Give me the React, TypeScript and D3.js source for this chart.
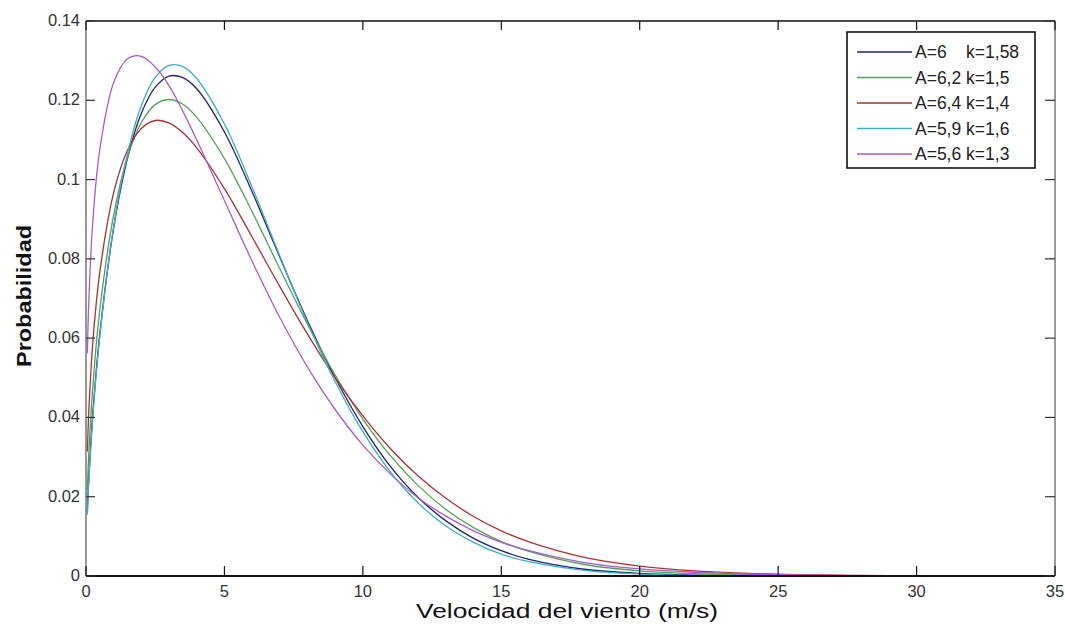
import React from "react";
import * as d3 from "d3";

// Wind speed samples (m/s)
const speeds = [0.05, 0.1, 0.25, 0.5, 1, 1.5, 2, 2.5, 3, 3.5, 4, 5, 6, 7, 8, 9, 10, 11, 12, 13, 14, 15, 16, 18, 20, 22, 25, 28, 31, 34.2];

// Probability values, one array per curve
const serieA6 = [0.0164, 0.0245, 0.0414, 0.0611, 0.0878, 0.1054, 0.1167, 0.1233, 0.1261, 0.1257, 0.1229, 0.1120, 0.0969, 0.0804, 0.0644, 0.0500, 0.0377, 0.0276, 0.0198, 0.0139, 0.0095, 0.0064, 0.0042, 0.0017, 0.00065, 0.00023, 0.00004, 0.00001, 0, 0];
const serieA62 = [0.0217, 0.0307, 0.0482, 0.0672, 0.0911, 0.1057, 0.1144, 0.1189, 0.1202, 0.1190, 0.1157, 0.1053, 0.0919, 0.0775, 0.0635, 0.0507, 0.0396, 0.0303, 0.0228, 0.0168, 0.0122, 0.0087, 0.0062, 0.0029, 0.0013, 0.00057, 0.00015, 0.00004, 0.00001, 0];
const serieA64 = [0.0314, 0.0413, 0.0592, 0.0767, 0.0967, 0.1074, 0.1129, 0.1149, 0.1143, 0.1118, 0.1080, 0.0977, 0.0855, 0.0730, 0.0610, 0.0500, 0.0404, 0.0321, 0.0252, 0.0196, 0.0150, 0.0114, 0.0086, 0.0047, 0.0025, 0.0013, 0.00045, 0.00015, 0.00005, 0.00001];
const serieA59 = [0.0155, 0.0235, 0.0404, 0.0605, 0.0882, 0.1066, 0.1187, 0.1258, 0.1288, 0.1285, 0.1255, 0.1140, 0.0981, 0.0807, 0.0639, 0.0490, 0.0364, 0.0262, 0.0184, 0.0126, 0.0085, 0.0055, 0.0036, 0.0014, 0.00049, 0.00016, 0.00003, 0, 0, 0];
const serieA56 = [0.0562, 0.0690, 0.0898, 0.1077, 0.1245, 0.1305, 0.1311, 0.1284, 0.1237, 0.1172, 0.1100, 0.0947, 0.0794, 0.0652, 0.0527, 0.0420, 0.0330, 0.0257, 0.0197, 0.0151, 0.0114, 0.0085, 0.0064, 0.0034, 0.0018, 0.00094, 0.00033, 0.00011, 0.00004, 0.00001];

const legendLabels = ["A=6    k=1,58", "A=6,2 k=1,5", "A=6,4 k=1,4", "A=5,9 k=1,6", "A=5,6 k=1,3"];
const seriesColors = ["#22226e", "#55a055", "#a83232", "#3aaec2", "#a65ccc"];
const allSeries = [serieA6, serieA62, serieA64, serieA59, serieA56];

const xTicks = [0, 5, 10, 15, 20, 25, 30, 35];
const yTicks = [0, 0.02, 0.04, 0.06, 0.08, 0.1, 0.12, 0.14];
const yTickLabels = ["0", "0.02", "0.04", "0.06", "0.08", "0.1", "0.12", "0.14"];

const W = 1065;
const H = 630;
const L = 86, R = 1055, T = 21, B = 576;
const FONT = "'Liberation Sans', Arial, Helvetica, sans-serif";

export default function App() {
  const x = d3.scaleLinear().domain([0, 35]).range([L, R]);
  const y = d3.scaleLinear().domain([0, 0.14]).range([B, T]);
  const line = d3
    .line<[number, number]>()
    .x((d) => x(d[0]))
    .y((d) => y(d[1]))
    .curve(d3.curveCatmullRom.alpha(0.5));

  const legX = 847, legY = 32, legW = 188, legH = 136;
  const rowY0 = 52, rowStep = 25.5;

  return (
    <svg
      width={W}
      height={H}
      style={{ position: "absolute", left: 0, top: 0, background: "#fff" }}
      fontFamily={FONT}
    >
      <rect x={0} y={0} width={W} height={H} fill="#fff" />

      {allSeries.map((s, i) => (
        <path
          key={i}
          d={line(speeds.map((v, j) => [v, s[j]] as [number, number])) || ""}
          fill="none"
          stroke={seriesColors[i]}
          strokeWidth={1.3}
        />
      ))}

      {/* axes box */}
      <line x1={L} x2={R} y1={T} y2={T} stroke="#111" strokeWidth={1.6} />
      <line x1={L} x2={R} y1={B} y2={B} stroke="#111" strokeWidth={2} />
      <line x1={L} x2={L} y1={T} y2={B} stroke="#555" strokeWidth={1.2} />
      <line x1={R} x2={R} y1={T} y2={B} stroke="#555" strokeWidth={1.2} />

      {xTicks.map((t) => (
        <g key={"x" + t}>
          <line x1={x(t)} x2={x(t)} y1={B} y2={B - 10} stroke="#111" strokeWidth={1.2} />
          <line x1={x(t)} x2={x(t)} y1={T} y2={T + 9} stroke="#111" strokeWidth={1.2} />
          <text x={x(t)} y={597} textAnchor="middle" fontSize={16.5} fill="#333">
            {t}
          </text>
        </g>
      ))}

      {yTicks.map((t, i) => (
        <g key={"y" + t}>
          <line x1={L} x2={L + 9} y1={y(t)} y2={y(t)} stroke="#333" strokeWidth={1.2} />
          <line x1={R} x2={R - 10} y1={y(t)} y2={y(t)} stroke="#333" strokeWidth={1.2} />
          <text x={80} y={y(t) + 5} textAnchor="end" fontSize={16.5} fill="#333">
            {yTickLabels[i]}
          </text>
        </g>
      ))}

      {/* legend */}
      <rect x={legX} y={legY} width={legW} height={legH} fill="#fff" stroke="#111" strokeWidth={1.6} />
      {legendLabels.map((lab, i) => (
        <g key={lab}>
          <line
            x1={857}
            x2={912}
            y1={rowY0 + i * rowStep}
            y2={rowY0 + i * rowStep}
            stroke={seriesColors[i]}
            strokeWidth={1.3}
          />
          <text
            x={915}
            y={rowY0 + i * rowStep + 6}
            fontSize={17.5}
            fill="#222"
            style={{ whiteSpace: "pre" }}
          >
            {lab}
          </text>
        </g>
      ))}

      <text
        x={567}
        y={618}
        textAnchor="middle"
        fontSize={20}
        fill="#111"
        textLength={302}
        lengthAdjust="spacingAndGlyphs"
      >
        Velocidad del viento (m/s)
      </text>
      <text
        transform={`translate(31,296) rotate(-90)`}
        textAnchor="middle"
        fontSize={21}
        fontWeight="bold"
        fill="#111"
        textLength={142}
        lengthAdjust="spacingAndGlyphs"
      >
        Probabilidad
      </text>
    </svg>
  );
}
